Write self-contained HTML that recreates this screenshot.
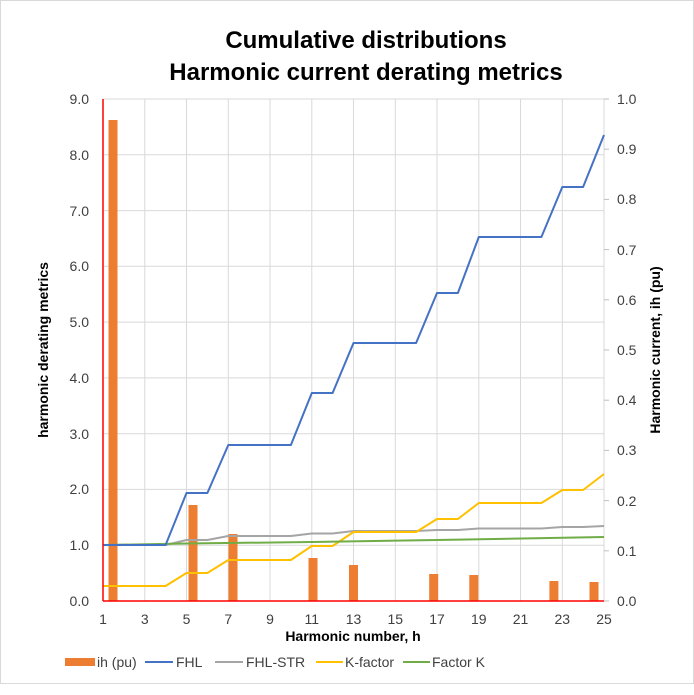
<!DOCTYPE html>
<html><head><meta charset="utf-8"><style>
html,body{margin:0;padding:0;background:#fff}
svg{display:block;font-family:"Liberation Sans",Arial,sans-serif}
</style></head><body>
<svg width="694" height="695" viewBox="0 0 694 695" xmlns="http://www.w3.org/2000/svg">
<rect x="0.5" y="0.5" width="693" height="683" fill="#fff" stroke="#d9d9d9"/>
<text x="366" y="48" text-anchor="middle" font-size="24" font-weight="bold">Cumulative distributions</text>
<text x="366" y="80" text-anchor="middle" font-size="24" font-weight="bold">Harmonic current derating metrics</text>
<g stroke="#d9d9d9" stroke-width="1">
<line x1="103" x2="604" y1="99" y2="99"/><line x1="103" x2="604" y1="154.8" y2="154.8"/><line x1="103" x2="604" y1="210.6" y2="210.6"/><line x1="103" x2="604" y1="266.3" y2="266.3"/><line x1="103" x2="604" y1="322.1" y2="322.1"/><line x1="103" x2="604" y1="377.9" y2="377.9"/><line x1="103" x2="604" y1="433.7" y2="433.7"/><line x1="103" x2="604" y1="489.4" y2="489.4"/><line x1="103" x2="604" y1="545.2" y2="545.2"/>
<line x1="144.8" x2="144.8" y1="99" y2="601"/><line x1="186.5" x2="186.5" y1="99" y2="601"/><line x1="228.3" x2="228.3" y1="99" y2="601"/><line x1="270" x2="270" y1="99" y2="601"/><line x1="311.8" x2="311.8" y1="99" y2="601"/><line x1="353.5" x2="353.5" y1="99" y2="601"/><line x1="395.3" x2="395.3" y1="99" y2="601"/><line x1="437" x2="437" y1="99" y2="601"/><line x1="478.8" x2="478.8" y1="99" y2="601"/><line x1="520.5" x2="520.5" y1="99" y2="601"/><line x1="562.3" x2="562.3" y1="99" y2="601"/><line x1="604" x2="604" y1="99" y2="601"/>
</g>
<g stroke="#bfbfbf"><line x1="604" x2="609" y1="99" y2="99"/><line x1="604" x2="609" y1="149.2" y2="149.2"/><line x1="604" x2="609" y1="199.4" y2="199.4"/><line x1="604" x2="609" y1="249.6" y2="249.6"/><line x1="604" x2="609" y1="299.8" y2="299.8"/><line x1="604" x2="609" y1="350" y2="350"/><line x1="604" x2="609" y1="400.2" y2="400.2"/><line x1="604" x2="609" y1="450.4" y2="450.4"/><line x1="604" x2="609" y1="500.6" y2="500.6"/><line x1="604" x2="609" y1="550.8" y2="550.8"/><line x1="604" x2="609" y1="601" y2="601"/></g>
<g fill="#ed7d31">
<rect x="108.5" y="120" width="9" height="481"/><rect x="188.5" y="505" width="9" height="96"/><rect x="228.5" y="534" width="9" height="67"/><rect x="308.5" y="558" width="9" height="43"/><rect x="349" y="565" width="9" height="36"/><rect x="429.2" y="574" width="9" height="27"/><rect x="469.3" y="575" width="9" height="26"/><rect x="549.4" y="581" width="9" height="20"/><rect x="589.5" y="582" width="9" height="19"/>
</g>
<g fill="none" stroke-width="2" stroke-linejoin="round">
<polyline stroke="#a5a5a5" points="103,545 165.6,545 186.5,540 207.4,540 228.3,536 290.9,536 311.8,533.5 332.6,533.5 353.5,531 416.1,531 437,530 457.9,530 478.8,528.5 541.4,528.5 562.3,527 583.1,527 604,526"/>
<polyline stroke="#ffc000" points="103,586 165.6,586 186.5,573 207.4,573 228.3,560 290.9,560 311.8,546 332.6,546 353.5,532 416.1,532 437,519 457.9,519 478.8,503 541.4,503 562.3,490 583.1,490 604,474"/>
<polyline stroke="#70ad47" points="103,545 186.5,543.5 311.8,542 437,540 604,537"/>
<polyline stroke="#4472c4" points="103,545 165.6,545 186.5,493 207.4,493 228.3,445 290.9,445 311.8,393 332.6,393 353.5,343 416.1,343 437,293 457.9,293 478.8,237 541.4,237 562.3,187 583.1,187 604,135"/>
</g>
<line x1="103" x2="103" y1="99" y2="601" stroke="#ff0000" stroke-width="1.5"/>
<line x1="103" x2="604" y1="601" y2="601" stroke="#ff0000" stroke-width="1.5"/>
<g font-size="14" fill="#404040" text-anchor="end">
<text x="89" y="104">9.0</text><text x="89" y="160">8.0</text><text x="89" y="216">7.0</text><text x="89" y="271">6.0</text><text x="89" y="327">5.0</text><text x="89" y="383">4.0</text><text x="89" y="439">3.0</text><text x="89" y="494">2.0</text><text x="89" y="550">1.0</text><text x="89" y="606">0.0</text>
</g>
<g font-size="14" fill="#404040">
<text x="617" y="104">1.0</text><text x="617" y="154">0.9</text><text x="617" y="204">0.8</text><text x="617" y="255">0.7</text><text x="617" y="305">0.6</text><text x="617" y="355">0.5</text><text x="617" y="405">0.4</text><text x="617" y="455">0.3</text><text x="617" y="506">0.2</text><text x="617" y="556">0.1</text><text x="617" y="606">0.0</text>
</g>
<g font-size="14" fill="#404040" text-anchor="middle">
<text x="103" y="624">1</text><text x="144.8" y="624">3</text><text x="186.5" y="624">5</text><text x="228.3" y="624">7</text><text x="270" y="624">9</text><text x="311.8" y="624">11</text><text x="353.5" y="624">13</text><text x="395.3" y="624">15</text><text x="437" y="624">17</text><text x="478.8" y="624">19</text><text x="520.5" y="624">21</text><text x="562.3" y="624">23</text><text x="604" y="624">25</text>
</g>
<text x="353" y="641" text-anchor="middle" font-size="14" font-weight="bold">Harmonic number, h</text>
<text transform="translate(48,350) rotate(-90)" text-anchor="middle" font-size="14" font-weight="bold">harmonic derating metrics</text>
<text transform="translate(660,350) rotate(-90)" text-anchor="middle" font-size="14" font-weight="bold">Harmonic current, ih (pu)</text>
<g font-size="14" fill="#404040">
<rect x="65" y="658" width="30" height="8" fill="#ed7d31"/><text x="97" y="667">ih (pu)</text>
<line x1="145" x2="173" y1="662" y2="662" stroke="#4472c4" stroke-width="2"/><text x="176" y="667">FHL</text>
<line x1="215" x2="243" y1="662" y2="662" stroke="#a5a5a5" stroke-width="2"/><text x="246" y="667">FHL-STR</text>
<line x1="316" x2="343" y1="662" y2="662" stroke="#ffc000" stroke-width="2"/><text x="345" y="667">K-factor</text>
<line x1="403" x2="430" y1="662" y2="662" stroke="#70ad47" stroke-width="2"/><text x="432" y="667">Factor K</text>
</g>
</svg>
</body></html>
